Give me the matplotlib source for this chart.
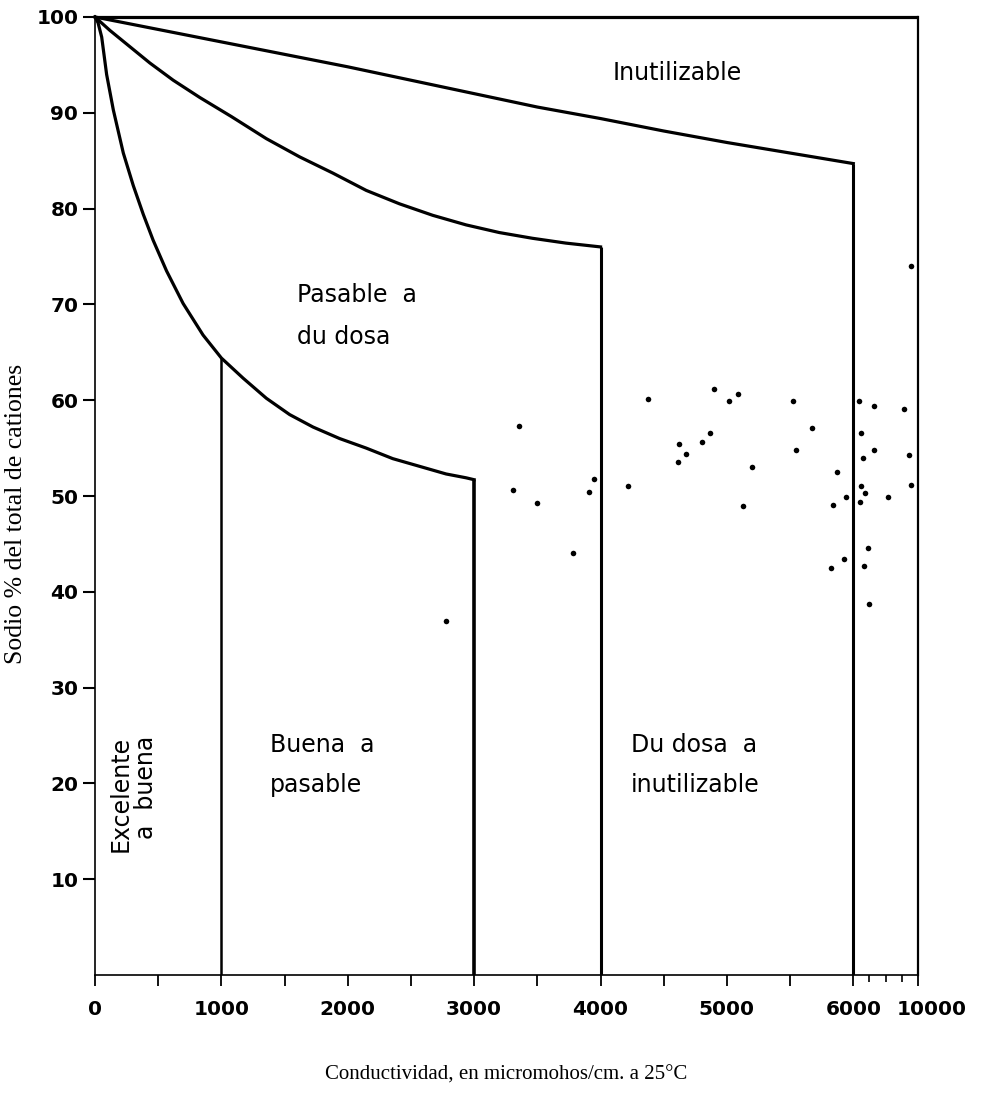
import numpy as np
import matplotlib
matplotlib.use("Agg")
import matplotlib.pyplot as plt
import matplotlib.transforms as mtransforms

# ---------------- data ----------------
# boundary curves (conductivity, sodium %)
curve_excelente_x = [0, 24, 53, 92, 145, 224, 303, 382, 460, 566, 697, 855, 1000,
                     1172, 1356, 1540, 1725, 1935, 2146, 2356, 2567, 2778, 2936, 3000]
curve_excelente_y = [100, 99.4, 97.9, 94.0, 90.3, 85.8, 82.4, 79.4, 76.7, 73.5, 70.1,
                     66.8, 64.4, 62.3, 60.2, 58.5, 57.2, 56.0, 55.0, 53.9, 53.1, 52.3,
                     51.9, 51.7]

curve_pasable_x = [0, 118, 276, 434, 619, 829, 1080, 1356, 1619, 1883, 2146, 2409,
                   2672, 2936, 3199, 3462, 3725, 4000]
curve_pasable_y = [100, 98.6, 96.9, 95.2, 93.4, 91.6, 89.6, 87.3, 85.4, 83.7, 81.9,
                   80.5, 79.3, 78.3, 77.5, 76.9, 76.4, 76.0]

curve_dudosa_x = [0, 500, 1000, 1500, 2000, 2500, 3000, 3500, 4000, 4500, 5000, 5500, 6000]
curve_dudosa_y = [100, 98.7, 97.4, 96.1, 94.8, 93.4, 92.0, 90.6, 89.4, 88.1, 86.9, 85.8, 84.7]

# vertical limits: (x, top y)
vertical_x = [1000, 3000, 4000, 6000]
vertical_top = [64.4, 51.7, 76.0, 84.7]

# samples
sample_x = [2780, 3357, 3310, 3500, 3784, 3910, 3950, 4218, 4376, 4613, 4621, 4676,
            4803, 4866, 4897, 5016, 5087, 5126, 5197, 5521, 5545, 5671, 5821, 5837,
            5869, 5924, 5940, 6375, 7310, 6500, 7250, 6625, 6500, 6750, 6437, 8125,
            6940, 6690, 7000, 9125, 9440, 9560, 9560]
sample_y = [36.9, 57.3, 50.6, 49.3, 44.0, 50.4, 51.8, 51.0, 60.1, 53.6, 55.4, 54.4,
            55.6, 56.6, 61.2, 59.9, 60.6, 49.0, 53.0, 59.9, 54.8, 57.1, 42.5, 49.1,
            52.5, 43.4, 49.9, 59.9, 59.4, 56.6, 54.8, 54.0, 51.0, 50.3, 49.4, 49.9,
            44.6, 42.7, 38.7, 59.1, 54.3, 51.1, 74.0]

x_tick_values = [0, 1000, 2000, 3000, 4000, 5000, 6000, 10000]
x_tick_labels = ["0", "1000", "2000", "3000", "4000", "5000", "6000", "10000"]
y_tick_values = [10, 20, 30, 40, 50, 60, 70, 80, 90, 100]

# ---------------- scale ----------------
K = 0.128  # compression of the 6000-10000 stretch


def fwd(x):
    x = np.asarray(x, dtype=float)
    return np.where(x <= 6000, x, 6000 + (x - 6000) * K)


def inv(u):
    u = np.asarray(u, dtype=float)
    return np.where(u <= 6000, u, 6000 + (u - 6000) / K)


fig = plt.figure(figsize=(9.81, 11.08), dpi=100)
ax = fig.add_axes([95 / 981, 133 / 1108, (918 - 95) / 981, (975 - 17) / 1108])
ax.set_xscale("function", functions=(fwd, inv))
ax.set_xlim(0, 10000)
ax.set_ylim(0, 100)

lw = 2.3
ax.plot([0, 10000], [100, 100], color="black", lw=lw, clip_on=False, solid_capstyle="butt")
ax.plot([10000, 10000], [0, 100], color="black", lw=1.6, clip_on=False)
for cx, cy in [(curve_excelente_x, curve_excelente_y),
               (curve_pasable_x, curve_pasable_y),
               (curve_dudosa_x, curve_dudosa_y)]:
    ax.plot(cx, cy, color="black", lw=lw, clip_on=False, solid_joinstyle="round")
v_lw = [1.8, 2.6, 2.2, 2.2]
for xv, yt, w in zip(vertical_x, vertical_top, v_lw):
    ax.plot([xv, xv], [0, yt], color="black", lw=w, solid_capstyle="butt")

ax.scatter(sample_x, sample_y, s=16, color="black", zorder=5, linewidths=0)

for s in ["top", "right"]:
    ax.spines[s].set_visible(False)
for s in ["left", "bottom"]:
    ax.spines[s].set_linewidth(1.2)

tick_font = dict(family="DejaVu Sans", size=14.5, weight="bold")
major_x = list(range(0, 6001, 500)) + [10000]
ax.set_xticks(major_x)
ax.set_xticklabels([x_tick_labels[x_tick_values.index(v)] if v in x_tick_values else ""
                    for v in major_x], fontdict=tick_font)
ax.set_xticks([7000, 8000, 9000], minor=True)
ax.tick_params(axis="x", which="major", direction="out", length=8, width=1.3, pad=10)
ax.tick_params(axis="x", which="minor", direction="out", length=5, width=1.2)
ax.set_yticks(y_tick_values)
ax.set_yticklabels([str(v) for v in y_tick_values], fontdict=tick_font)
ax.tick_params(axis="y", which="major", direction="out", length=9, width=1.5, pad=3)

# shift the "10000" label a little to the right, as in the original
last = ax.get_xticklabels()[-1]
last.set_transform(last.get_transform() +
                   mtransforms.ScaledTranslation(14 / 100, 0, fig.dpi_scale_trans))

region_font = dict(family="DejaVu Sans", size=17, color="black")
ax.text(4605, 94.2, "Inutilizable", ha="center", va="center", **region_font)
ax.text(1596, 71.0, "Pasable  a", ha="left", va="center", **region_font)
ax.text(1596, 66.6, "du dosa", ha="left", va="center", **region_font)
ax.text(1382, 24.0, "Buena  a", ha="left", va="center", **region_font)
ax.text(1382, 19.8, "pasable", ha="left", va="center", **region_font)
ax.text(4242, 24.0, "Du dosa  a", ha="left", va="center", **region_font)
ax.text(4242, 19.8, "inutilizable", ha="left", va="center", **region_font)
rot_font = dict(family="DejaVu Sans", size=17, color="black")
ax.text(200, 25.0, "Excelente", rotation=90, ha="center", va="top", **rot_font)
ax.text(405, 25.0, "a  buena", rotation=90, ha="center", va="top", **rot_font)

fig.text(16 / 981, 1 - 514 / 1108, "Sodio % del total de cationes", rotation=90,
         ha="center", va="center", family="Liberation Serif", size=18.5)
fig.text(506 / 981, 1 - 1075 / 1108, "Conductividad, en micromohos/cm. a 25°C",
         ha="center", va="center", family="Liberation Serif", size=15)

fig.savefig("out.png", dpi=100)
